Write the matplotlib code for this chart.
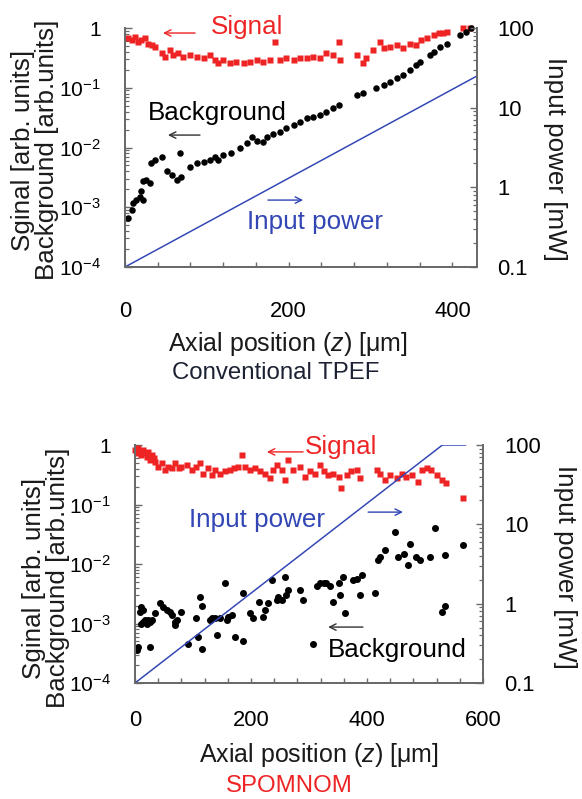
import matplotlib
matplotlib.use("Agg")
import matplotlib.pyplot as plt
from matplotlib.ticker import FixedLocator, FixedFormatter, MultipleLocator, LogLocator, NullFormatter

plt.rcParams["font.family"] = ["Liberation Sans", "DejaVu Sans"]
plt.rcParams["mathtext.fontset"] = "custom"
plt.rcParams["mathtext.rm"] = "Liberation Sans"
plt.rcParams["mathtext.it"] = "Liberation Sans:italic"

RED = "#ee2424"
BLUE = "#3246b4"
GREY = "#6a6a6a"

# ---- Conventional TPEF (top panel) ----
tpef_sig_z = [4, 8, 12, 16, 20, 24, 28, 33, 37, 45, 49, 55, 59, 65, 71, 79, 88, 96, 104, 110,
              114, 120, 128, 136, 145, 153, 161, 169, 177, 183, 189, 197, 206, 214, 222, 230, 238,
              246, 254, 261, 263, 283, 291, 295, 303, 311, 316, 324, 332, 340, 348, 356, 362, 369,
              377, 383, 389, 393, 413, 421]
tpef_sig = [0.67, 0.63, 0.72, 0.59, 0.63, 0.67, 0.55, 0.52, 0.49, 0.38, 0.33, 0.43, 0.35, 0.38,
            0.33, 0.35, 0.33, 0.31, 0.35, 0.29, 0.26, 0.29, 0.26, 0.27, 0.26, 0.27, 0.29, 0.27,
            0.29, 0.59, 0.29, 0.31, 0.29, 0.31, 0.31, 0.33, 0.31, 0.38, 0.35, 0.59, 0.29, 0.35,
            0.26, 0.31, 0.43, 0.59, 0.46, 0.49, 0.52, 0.46, 0.55, 0.52, 0.63, 0.67, 0.76, 0.81,
            0.81, 0.85, 1.0, 1.0]

tpef_bg_z = [4, 8, 10, 14, 18, 22, 20, 22, 26, 30, 32, 37, 45, 51, 57, 63, 69, 67, 79, 88, 96,
             104, 110, 114, 120, 130, 140, 149, 155, 161, 169, 173, 181, 189, 197, 206, 214, 222,
             230, 238, 246, 254, 261, 283, 291, 307, 316, 324, 332, 340, 348, 356, 360, 373, 377,
             385, 393, 409, 417, 423]
tpef_bg = [6.5e-4, 9e-4, 1.2e-3, 1.3e-3, 1.5e-3, 1.3e-3, 1.9e-3, 2.7e-3, 2.9e-3, 2.5e-3, 5.5e-3,
           6.2e-3, 7e-3, 4e-3, 3.5e-3, 2.9e-3, 3.2e-3, 8e-3, 4.8e-3, 5.5e-3, 5.8e-3, 6.2e-3, 7e-3,
           6.2e-3, 7.4e-3, 8e-3, 9.7e-3, 1.2e-2, 1.5e-2, 1.3e-2, 1.25e-2, 1.5e-2, 1.7e-2, 1.8e-2,
           2.1e-2, 2.4e-2, 2.7e-2, 3.1e-2, 3.3e-2, 3.5e-2, 4e-2, 4.5e-2, 5.1e-2, 7.6e-2, 8.1e-2,
           9.8e-2, 0.11, 0.126, 0.144, 0.164, 0.2, 0.24, 0.27, 0.35, 0.4, 0.49, 0.55, 0.76, 0.87,
           1.0]

tpef_pow_z = [0, 430]
tpef_pow = [0.1, 25]

# ---- SPOMNOM (bottom panel) ----
spom_sig_z = [0, 3, 6, 9, 11, 14, 17, 20, 23, 26, 29, 32, 34, 40, 46, 52, 57, 63, 69, 75, 80,
              89, 98, 106, 112, 118, 126, 132, 138, 147, 155, 164, 170, 178, 184, 190, 198, 207,
              216, 224, 233, 238, 244, 253, 259, 264, 273, 284, 293, 302, 310, 319, 325, 333, 342,
              351, 356, 365, 373, 382, 388, 417, 422, 431, 440, 451, 460, 468, 477, 488, 494, 503,
              511, 520, 529, 537, 565]
spom_sig = [0.82, 0.72, 0.88, 0.77, 0.68, 0.82, 0.72, 0.64, 0.77, 0.56, 0.68, 0.60, 0.52, 0.43,
            0.49, 0.38, 0.43, 0.41, 0.49, 0.41, 0.43, 0.46, 0.38, 0.43, 0.49, 0.33, 0.41, 0.31,
            0.38, 0.33, 0.36, 0.38, 0.41, 0.43, 0.68, 0.43, 0.38, 0.41, 0.36, 0.33, 0.275, 0.38,
            0.46, 0.38, 0.26, 0.56, 0.38, 0.43, 0.29, 0.36, 0.33, 0.46, 0.36, 0.31, 0.33, 0.29,
            0.19, 0.31, 0.36, 0.38, 0.275, 0.38, 0.33, 0.26, 0.31, 0.275, 0.33, 0.29, 0.31, 0.24,
            0.38, 0.41, 0.38, 0.31, 0.26, 0.227, 0.128]

spom_bg_z = [3, 6, 11, 9, 14, 11, 14, 17, 20, 23, 26, 29, 26, 34, 43, 49, 55, 60, 63, 69, 69, 72,
             80, 92, 106, 109, 112, 115, 115, 129, 132, 141, 138, 147, 155, 158, 161, 167, 172,
             187, 187, 198, 204, 213, 221, 224, 230, 236, 244, 247, 253, 259, 261, 264, 284, 290,
             307, 313, 319, 325, 330, 336, 342, 351, 353, 362, 359, 376, 382, 388, 391, 414, 419,
             422, 431, 448, 454, 463, 471, 474, 485, 491, 508, 517, 529, 534, 534, 566]
spom_bg = [3.6e-4, 4.1e-4, 1.9e-3, 1.58e-3, 1.7e-3, 1.0e-3, 1.07e-3, 1.15e-3, 1.0e-3, 1.15e-3,
           1.07e-3, 1.15e-3, 4.1e-4, 1.48e-3, 2.2e-3, 1.9e-3, 1.7e-3, 1.58e-3, 1.38e-3, 1.07e-3,
           9.4e-4, 1.15e-3, 1.58e-3, 4.6e-4, 1.23e-3, 6e-4, 2.8e-3, 2.0e-3, 3.8e-4, 1.15e-3,
           1.23e-3, 6.4e-4, 1.23e-3, 1.23e-3, 4.8e-3, 1.15e-3, 1.3e-3, 1.38e-3, 6e-4, 5e-4,
           3.2e-3, 1.48e-3, 1.23e-3, 2.3e-3, 1.3e-3, 1.7e-3, 2.2e-3, 5.4e-3, 2.5e-3, 2.8e-3,
           2.5e-3, 6.1e-3, 3.0e-3, 3.7e-3, 3.7e-3, 2.5e-3, 4.6e-4, 4.2e-3, 4.8e-3, 4.8e-3,
           4.8e-3, 4.2e-3, 2.3e-3, 4.8e-3, 3.0e-3, 1.48e-3, 6.1e-3, 5.4e-3, 5.7e-3, 3.0e-3,
           6.6e-3, 3.2e-3, 1.17e-2, 1.3e-2, 1.7e-2, 3.5e-2, 1.3e-2, 1.5e-2, 9.6e-3, 2.2e-2,
           1.3e-2, 1.17e-2, 1.3e-2, 4e-2, 1.58e-3, 2.0e-3, 1.4e-2, 2.1e-2]

spom_pow_z = [0, 530, 570]
spom_pow = [0.1, 100, 100]

LEFT_TICKS = [1e-4, 1e-3, 1e-2, 1e-1, 1]
LEFT_LABELS = ["10$^{-4}$", "10$^{-3}$", "10$^{-2}$", "10$^{-1}$", "1"]
RIGHT_TICKS = [0.1, 1, 10, 100]
RIGHT_LABELS = ["0.1", "1", "10", "100"]

W, H = 582, 799
DPI = 72


def px_axes(fig, x0, x1, y0, y1):
    return fig.add_axes([x0 / W, 1 - y1 / H, (x1 - x0) / W, (y1 - y0) / H])


def style_panel(ax, xmax, xlabels, xpad, yleft_pad, yright_pad):
    ax.set_yscale("log")
    ax.set_ylim(1e-4, 1)
    ax.set_xlim(0, xmax)
    ax.xaxis.set_major_locator(FixedLocator(xlabels))
    ax.xaxis.set_major_formatter(FixedFormatter([str(v) for v in xlabels]))
    ax.xaxis.set_minor_locator(MultipleLocator(40))
    ax.yaxis.set_major_locator(FixedLocator(LEFT_TICKS))
    ax.yaxis.set_major_formatter(FixedFormatter(LEFT_LABELS))
    ax.yaxis.set_minor_locator(LogLocator(base=10, subs=range(2, 10)))
    ax.yaxis.set_minor_formatter(NullFormatter())
    ax.tick_params(axis="x", which="both", direction="in", length=5, width=1.4, color=GREY,
                   labelsize=22, pad=xpad, top=False)
    ax.tick_params(axis="y", which="major", direction="in", length=7, width=1.4, color=GREY,
                   labelsize=21, pad=yleft_pad, right=False)
    ax.tick_params(axis="y", which="minor", direction="in", length=4, width=1.2, color=GREY,
                   right=False)

    ax2 = ax.twinx()
    ax2.set_yscale("log")
    ax2.set_ylim(0.1, 100)
    ax2.yaxis.set_major_locator(FixedLocator(RIGHT_TICKS))
    ax2.yaxis.set_major_formatter(FixedFormatter(RIGHT_LABELS))
    ax2.yaxis.set_minor_locator(LogLocator(base=10, subs=range(2, 10)))
    ax2.yaxis.set_minor_formatter(NullFormatter())
    ax2.tick_params(axis="y", which="major", direction="in", length=7, width=1.4, color=GREY,
                    labelsize=22, pad=yright_pad)
    ax2.tick_params(axis="y", which="minor", direction="in", length=4, width=1.2, color=GREY)

    for a in (ax, ax2):
        a.spines["top"].set_visible(False)
        for s in ("left", "right", "bottom"):
            a.spines[s].set_color(GREY)
            a.spines[s].set_linewidth(2.0)
    return ax2


def arrow(ax, x0, x1, y, color):
    ax.annotate("", xy=(x1, y), xytext=(x0, y), xycoords="axes fraction",
                textcoords="axes fraction", annotation_clip=False,
                arrowprops=dict(arrowstyle="->", color=color, lw=1.4,
                                mutation_scale=16, shrinkA=0, shrinkB=0))


fig = plt.figure(figsize=(W / DPI, H / DPI), dpi=DPI)

# top panel
ax = px_axes(fig, 125, 477, 28, 267)
ax2 = style_panel(ax, 430, [0, 200, 400], 34, 24, 20)
ax2.plot(tpef_pow_z, tpef_pow, color=BLUE, lw=1.5, zorder=2)
ax.plot(tpef_sig_z, tpef_sig, "s", color=RED, ms=6, mec="none", clip_on=False, zorder=3)
ax.plot(tpef_bg_z, tpef_bg, "o", color="black", ms=6.5, mec="none", clip_on=False, zorder=3)
ax.text(0.347, 1.004, "Signal", color=RED, fontsize=26, ha="center", va="center",
        transform=ax.transAxes)
arrow(ax, 0.199, 0.108, 0.979, RED)
ax.text(0.261, 0.644, "Background", color="black", fontsize=26, ha="center", va="center",
        transform=ax.transAxes)
arrow(ax, 0.213, 0.122, 0.552, "#333333")
ax.text(0.54, 0.188, "Input power", color=BLUE, fontsize=26, ha="center", va="center",
        transform=ax.transAxes)
arrow(ax, 0.406, 0.506, 0.28, BLUE)

# bottom panel
bx = px_axes(fig, 135, 483, 445, 683)
bx2 = style_panel(bx, 600, [0, 200, 400, 600], 27, 24, 21)
bx2.plot(spom_pow_z, spom_pow, color=BLUE, lw=1.5, zorder=2)
bx.plot(spom_sig_z, spom_sig, "s", color=RED, ms=6, mec="none", clip_on=False, zorder=3)
bx.plot(spom_bg_z, spom_bg, "o", color="black", ms=7, mec="none", clip_on=False, zorder=3)
bx.text(0.592, 0.992, "Signal", color=RED, fontsize=26, ha="center", va="center",
        transform=bx.transAxes)
arrow(bx, 0.483, 0.379, 0.971, RED)
bx.text(0.351, 0.685, "Input power", color=BLUE, fontsize=26, ha="center", va="center",
        transform=bx.transAxes)
arrow(bx, 0.670, 0.770, 0.718, BLUE)
bx.text(0.753, 0.139, "Background", color="black", fontsize=26, ha="center", va="center",
        transform=bx.transAxes)
arrow(bx, 0.655, 0.555, 0.235, "#333333")


# labels
def ftext(x, y, s, va="center", size=26, **kw):
    fig.text(x / W, 1 - y / H, s, ha="center", va=va, fontsize=size, **kw)


xlab = "Axial position ($\\mathit{z}$) [\u03bcm]"
ylab = "Sginal [arb. units]\nBackground [arb.units]"
rlab = "Input power [mW]"

ftext(288, 351, xlab, va="baseline", size=25, color="#1a1a1a")
ftext(276, 379, "Conventional TPEF", va="baseline", size=24, color="#1c2233")
ftext(35, 150, ylab, rotation=90, linespacing=1.0, color="#1a1a1a")
ftext(555, 159, rlab, rotation=270, color="#1a1a1a")

ftext(319, 762, xlab, va="baseline", size=25, color="#1a1a1a")
ftext(289, 792, "SPOMNOM", va="baseline", size=24, color=RED)
ftext(46, 578, ylab, rotation=90, linespacing=1.0, color="#1a1a1a")
ftext(565, 567, rlab, rotation=270, color="#1a1a1a")

fig.savefig("out.png", dpi=DPI)
